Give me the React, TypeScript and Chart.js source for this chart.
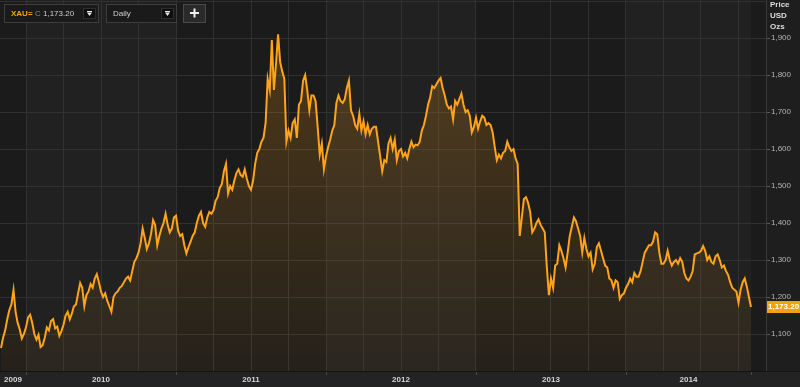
import React, { useEffect, useRef } from 'react';
import { Chart, registerables } from 'chart.js';

Chart.register(...registerables);

// Gold spot (XAU=) daily close, sampled ~6 times per month, Nov 2009 -> Oct 2014
const prices2009 = [
  1062, 1090, 1110, 1140, 1165, 1180, // Nov
  1219, 1160, 1130, 1112, 1088, 1100, // Dec
];
const prices2010 = [
  1118, 1145, 1152, 1130, 1100, 1085,
  1098, 1065, 1070, 1090, 1118, 1110,
  1135, 1140, 1115, 1120, 1095, 1108,
  1125, 1150, 1160, 1140, 1155, 1175,
  1180, 1210, 1238, 1225, 1175, 1205,
  1215, 1235, 1225, 1250, 1262, 1240,
  1215, 1200, 1210, 1190, 1175, 1160,
  1200, 1210, 1215, 1225, 1230, 1240,
  1250, 1255, 1245, 1270, 1295, 1305,
  1320, 1345, 1385, 1360, 1330, 1345,
  1370, 1408, 1395, 1340, 1365, 1385,
  1400, 1425, 1395, 1375, 1385, 1415,
];
const prices2011 = [
  1420, 1380, 1365, 1370, 1340, 1318,
  1335, 1350, 1365, 1375, 1400, 1420,
  1430, 1400, 1390, 1415, 1430, 1425,
  1435, 1460, 1470, 1495, 1505, 1540,
  1560, 1480, 1500, 1490, 1515, 1535,
  1545, 1530, 1525, 1545, 1520, 1500,
  1490, 1515, 1560, 1590, 1600, 1620,
  1630, 1670, 1790, 1760, 1895, 1760,
  1830, 1910, 1835, 1810, 1790, 1620,
  1650, 1630, 1670, 1680, 1630, 1720,
  1730, 1785, 1800, 1760, 1705, 1745,
  1745, 1730, 1660, 1585, 1615, 1545,
];
const prices2012 = [
  1580, 1605, 1625, 1650, 1665, 1725,
  1745, 1730, 1725, 1735, 1765, 1785,
  1705, 1690, 1665, 1655, 1695, 1650,
  1675, 1640, 1665, 1640, 1655, 1660,
  1660, 1620, 1580, 1540, 1570, 1565,
  1615, 1630, 1600, 1625, 1570, 1595,
  1600, 1580, 1590, 1575, 1600, 1620,
  1605, 1612, 1610, 1620, 1650, 1665,
  1690, 1720, 1740, 1770, 1765, 1775,
  1785, 1792, 1765, 1745, 1720, 1710,
  1715, 1680, 1730, 1720, 1735, 1750,
  1720, 1700, 1705, 1690, 1645, 1660,
];
const prices2013 = [
  1685, 1655, 1675, 1690, 1685, 1665,
  1670, 1665, 1645, 1605, 1570, 1585,
  1575, 1590, 1595, 1620, 1605, 1595,
  1600, 1575, 1560, 1365, 1415, 1465,
  1470, 1455, 1430, 1375, 1385, 1400,
  1410, 1395, 1385, 1375, 1280, 1205,
  1250, 1225, 1285, 1290, 1340, 1325,
  1305, 1280, 1320, 1365, 1390, 1415,
  1405, 1385, 1365, 1320, 1360, 1330,
  1310, 1320, 1275, 1290, 1335, 1345,
  1325, 1305, 1285, 1280, 1250, 1245,
  1225, 1245, 1240, 1195, 1205, 1210,
];
const prices2014 = [
  1225, 1235, 1250, 1240, 1265, 1255,
  1255, 1270, 1295, 1320, 1330, 1340,
  1340, 1350, 1375, 1370, 1320, 1290,
  1290, 1300, 1325, 1300, 1285, 1295,
  1300, 1290, 1305, 1295, 1265, 1250,
  1245, 1255, 1270, 1315, 1318, 1320,
  1325, 1338, 1325, 1300, 1310, 1295,
  1290, 1310, 1315, 1300, 1280, 1285,
  1270, 1260, 1240, 1225, 1220, 1215,
  1185, 1220, 1240, 1250, 1228, 1200,
];
const lastPrice = 1173.2;

const yearLabels = ['2009', '2010', '2011', '2012', '2013', '2014'];
const yearStarts = [2009, 2010, 2011, 2012, 2013, 2014];
const priceTicks = [1100, 1200, 1300, 1400, 1500, 1600, 1700, 1800, 1900];
const gridPrices = [1000, 1100, 1200, 1300, 1400, 1500, 1600, 1700, 1800, 1900, 2000];
const axisTitle = ['Price', 'USD', 'Ozs'];
const ricName = 'XAU=';
const intervalName = 'Daily';

const seriesStart = 2009 + 10 / 12; // 1 Nov 2009
const pointsPerYear = 72;

const W = 800;
const H = 387;
const X_MIN = 2010 - 26 / 150;
const X_MAX = 2010 + 740 / 150;
const Y_MIN = 1000;
const Y_MAX = 2003;

const DARK = '#1b1b1b';
const LIGHT = '#212121';
const FONT = '"Liberation Sans", Arial, sans-serif';
const ORANGE = '#ffa31a';

function buildPoints() {
  const all = [...prices2009, ...prices2010, ...prices2011, ...prices2012, ...prices2013, ...prices2014, lastPrice];
  return all.map((v, i) => ({ x: seriesStart + i / pointsPerYear, y: v }));
}

const fmt = (v: number, d = 0) =>
  v.toLocaleString('en-US', { minimumFractionDigits: d, maximumFractionDigits: d });

const decorPlugin = {
  id: 'decor',
  beforeDraw(chart: any) {
    const { ctx, chartArea: a, scales } = chart;
    const xs = scales.x;
    const pts = chart.data.datasets[0].data;
    const lastX = xs.getPixelForValue(pts[pts.length - 1].x);
    ctx.save();
    ctx.fillStyle = '#1e1e1e';
    ctx.fillRect(0, 0, W, H);
    yearStarts.forEach((yr, i) => {
      const x0 = Math.max(a.left, xs.getPixelForValue(yr));
      const x1 = Math.min(lastX, xs.getPixelForValue(yr + 1));
      if (x1 <= x0) return;
      ctx.fillStyle = i % 2 === 0 ? DARK : LIGHT;
      ctx.fillRect(x0, a.top, x1 - x0, a.bottom - a.top);
    });
    ctx.fillStyle = DARK;
    ctx.fillRect(lastX, a.top, a.right - lastX, a.bottom - a.top);
    ctx.fillStyle = '#232323';
    ctx.fillRect(0, a.bottom, W, H - a.bottom);
    ctx.restore();
  },
  afterDraw(chart: any) {
    const { ctx, chartArea: a, scales } = chart;
    const xs = scales.x;
    const ys = scales.y;
    const pts = chart.data.datasets[0].data;
    const lastX = xs.getPixelForValue(pts[pts.length - 1].x);
    ctx.save();

    // bottom border
    ctx.strokeStyle = '#141414';
    ctx.lineWidth = 1;
    ctx.beginPath();
    ctx.moveTo(0, Math.round(a.bottom) + 0.5);
    ctx.lineTo(W, Math.round(a.bottom) + 0.5);
    ctx.stroke();

    // year tick marks
    ctx.strokeStyle = '#4a4a4a';
    const marks = yearStarts.slice(1).map((yr) => xs.getPixelForValue(yr)).concat([lastX]);
    marks.forEach((px) => {
      ctx.beginPath();
      ctx.moveTo(Math.round(px) + 0.5, a.bottom + 1);
      ctx.lineTo(Math.round(px) + 0.5, a.bottom + 4);
      ctx.stroke();
    });

    // year labels
    ctx.font = `bold 8px ${FONT}`;
    ctx.fillStyle = '#d6d6d6';
    ctx.textAlign = 'center';
    ctx.textBaseline = 'middle';
    yearStarts.forEach((yr, i) => {
      const x0 = Math.max(a.left, xs.getPixelForValue(yr));
      const x1 = Math.min(lastX, xs.getPixelForValue(yr + 1));
      let cx = (x0 + x1) / 2;
      const w = ctx.measureText(yearLabels[i]).width;
      cx = Math.max(cx, a.left + 4 + w / 2);
      ctx.fillText(yearLabels[i], cx, a.bottom + 9);
    });

    // right axis line
    ctx.strokeStyle = '#3a3a3a';
    ctx.beginPath();
    ctx.moveTo(Math.round(a.right) + 0.5, 0);
    ctx.lineTo(Math.round(a.right) + 0.5, a.bottom);
    ctx.stroke();

    // price labels
    ctx.font = `8px ${FONT}`;
    ctx.textAlign = 'left';
    ctx.fillStyle = '#b4b4b4';
    ctx.strokeStyle = '#5a5a5a';
    priceTicks.forEach((v) => {
      const py = ys.getPixelForValue(v);
      ctx.beginPath();
      ctx.moveTo(a.right + 1, Math.round(py) + 0.5);
      ctx.lineTo(a.right + 4, Math.round(py) + 0.5);
      ctx.stroke();
      ctx.fillText(fmt(v), a.right + 5, py);
    });

    // axis title
    ctx.font = `bold 8px ${FONT}`;
    ctx.fillStyle = '#dcdcdc';
    axisTitle.forEach((t, i) => ctx.fillText(t, a.right + 4, 5 + i * 11));

    // last price tag
    const ty = ys.getPixelForValue(lastPrice);
    ctx.fillStyle = '#f5a011';
    ctx.fillRect(a.right + 1, Math.round(ty) - 6, W - a.right - 1, 12);
    ctx.fillStyle = '#ffffff';
    ctx.font = `bold 8px ${FONT}`;
    ctx.fillText(fmt(lastPrice, 2), a.right + 2, Math.round(ty));

    // toolbar
    const box = (x: number, w: number) => {
      ctx.fillStyle = '#1a1a1a';
      ctx.fillRect(x, 4, w, 19);
      ctx.strokeStyle = '#3e3e3e';
      ctx.strokeRect(x + 0.5, 4.5, w - 1, 18);
    };
    const dropBtn = (x: number) => {
      ctx.fillStyle = '#0f0f0f';
      ctx.fillRect(x, 8, 13, 11);
      ctx.strokeStyle = '#2e2e2e';
      ctx.strokeRect(x + 0.5, 8.5, 12, 10);
      ctx.fillStyle = '#e8e8e8';
      ctx.fillRect(x + 4, 11, 5, 1);
      ctx.beginPath();
      ctx.moveTo(x + 4, 12.5);
      ctx.lineTo(x + 9, 12.5);
      ctx.lineTo(x + 6.5, 16);
      ctx.closePath();
      ctx.fill();
    };
    box(4, 95);
    ctx.textBaseline = 'middle';
    ctx.font = `bold 8px ${FONT}`;
    ctx.fillStyle = '#f5a011';
    ctx.fillText(ricName, 11, 14);
    ctx.font = `8px ${FONT}`;
    ctx.fillStyle = '#8a8a8a';
    ctx.fillText('C', 35, 14);
    ctx.fillStyle = '#cfcfcf';
    ctx.fillText(fmt(lastPrice, 2), 43, 14);
    dropBtn(83);

    box(106, 71);
    ctx.fillStyle = '#cfcfcf';
    ctx.fillText(intervalName, 113, 14);
    dropBtn(161);

    ctx.fillStyle = '#2a2a2a';
    ctx.fillRect(183, 4, 23, 19);
    ctx.strokeStyle = '#4a4a4a';
    ctx.strokeRect(183.5, 4.5, 22, 18);
    ctx.fillStyle = '#f0f0f0';
    ctx.fillRect(190, 12, 9, 2);
    ctx.fillRect(193.5, 8.5, 2, 9);

    ctx.restore();
  },
};

export default function App() {
  const ref = useRef<HTMLCanvasElement | null>(null);

  useEffect(() => {
    if (!ref.current) return;
    const quarterTicks: number[] = [];
    for (let yr = 2010; yr <= 2014; yr++) {
      for (let q = 0; q < 4; q++) {
        const v = yr + q / 4;
        if (v <= X_MAX) quarterTicks.push(v);
      }
    }
    const chart = new Chart(ref.current, {
      type: 'line',
      data: {
        datasets: [
          {
            data: buildPoints(),
            borderColor: ORANGE,
            borderWidth: 2,
            pointRadius: 0,
            tension: 0,
            fill: 'start',
            backgroundColor: (c: any) => {
              const { ctx, chartArea } = c.chart;
              if (!chartArea) return 'rgba(255,160,20,0.12)';
              const g = ctx.createLinearGradient(0, chartArea.top, 0, chartArea.bottom);
              g.addColorStop(0, 'rgba(255,160,20,0.245)');
              g.addColorStop(1, 'rgba(255,160,20,0.045)');
              return g;
            },
          } as any,
        ],
      },
      options: {
        responsive: false,
        maintainAspectRatio: false,
        devicePixelRatio: 1,
        animation: false,
        parsing: false as any,
        normalized: true,
        layout: { padding: { left: 0, right: 34, top: 0, bottom: 16 } },
        plugins: { legend: { display: false }, tooltip: { enabled: false } },
        events: [],
        scales: {
          x: {
            type: 'linear',
            position: 'bottom',
            min: X_MIN,
            max: X_MAX,
            afterBuildTicks: (s: any) => {
              s.ticks = quarterTicks.map((v) => ({ value: v }));
            },
            ticks: { display: false },
            grid: { color: '#313131', lineWidth: 1, drawTicks: false },
            border: { display: false },
          },
          y: {
            type: 'linear',
            position: 'right',
            min: Y_MIN,
            max: Y_MAX,
            afterBuildTicks: (s: any) => {
              s.ticks = gridPrices.map((v) => ({ value: v }));
            },
            ticks: { display: false },
            grid: { color: '#313131', lineWidth: 1, drawTicks: false },
            border: { display: false },
          },
        },
      },
      plugins: [decorPlugin],
    });
    return () => chart.destroy();
  }, []);

  return (
    <div style={{ position: 'absolute', left: 0, top: 0, width: W, height: H }}>
      <canvas ref={ref} width={W} height={H} style={{ display: 'block', width: W, height: H }} />
    </div>
  );
}
